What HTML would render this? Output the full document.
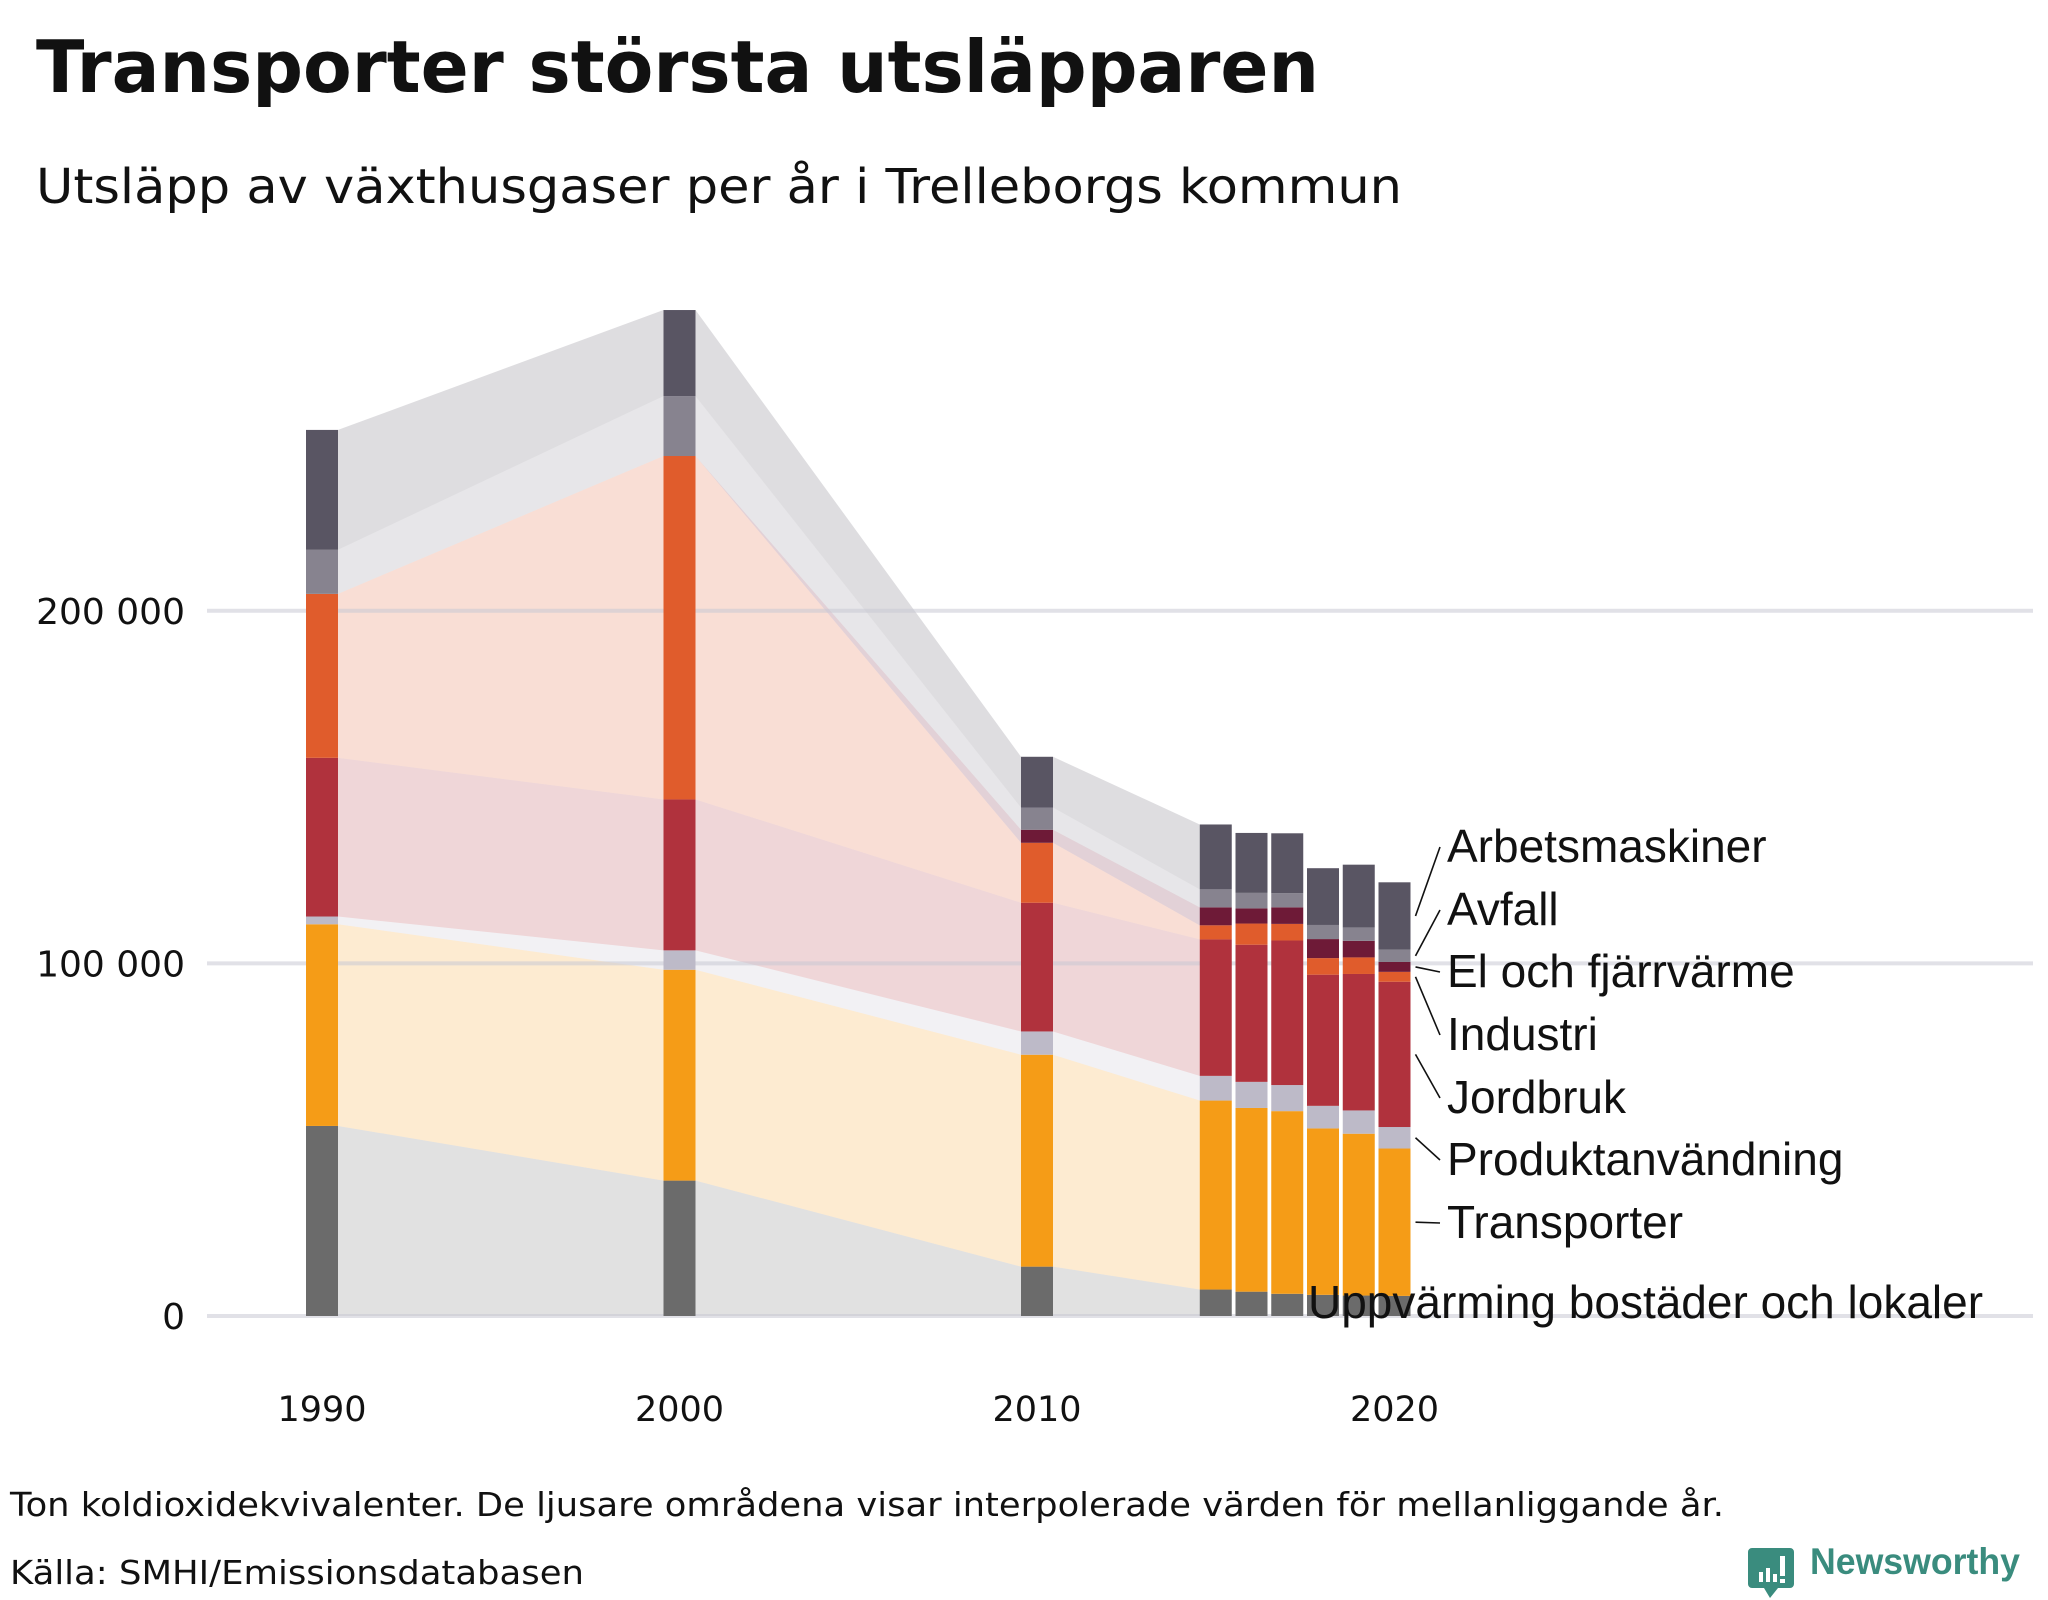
<!DOCTYPE html>
<html><head><meta charset="utf-8"><style>
html,body{margin:0;padding:0;background:#fff;}
svg{display:block;}
</style></head><body>
<svg id="chart" width="2048" height="1600" viewBox="0 0 2048 1600" xmlns="http://www.w3.org/2000/svg">
<text x="36" y="92" font-family="'DejaVu Sans', sans-serif" font-weight="bold" font-size="72" fill="#111" textLength="1283" lengthAdjust="spacingAndGlyphs">Transporter största utsläpparen</text>
<text x="36" y="203" font-family="'DejaVu Sans', sans-serif" font-size="48" fill="#111" textLength="1366" lengthAdjust="spacingAndGlyphs">Utsläpp av växthusgaser per år i Trelleborgs kommun</text>
<g id="areas"></g><g id="grid"></g><g id="bars"></g><g id="labels"></g>
<text x="10" y="1516" font-family="'DejaVu Sans', sans-serif" font-size="33" fill="#111" textLength="1714" lengthAdjust="spacingAndGlyphs">Ton koldioxidekvivalenter. De ljusare områdena visar interpolerade värden för mellanliggande år.</text>
<text x="10" y="1584" font-family="'DejaVu Sans', sans-serif" font-size="33" fill="#111" textLength="574" lengthAdjust="spacingAndGlyphs">Källa: SMHI/Emissionsdatabasen</text>
<g>
<path d="M1752 1548 h38 a4 4 0 0 1 4 4 v32 a4 4 0 0 1 -4 4 h-12 l-8 10 l-6 -10 h-12 a4 4 0 0 1 -4 -4 v-32 a4 4 0 0 1 4 -4z" fill="#3a8c7e"/>
<rect x="1759" y="1572" width="4" height="10" fill="#fff"/><rect x="1766" y="1568" width="4" height="14" fill="#fff"/><rect x="1773" y="1574" width="4" height="8" fill="#fff"/><rect x="1780" y="1556" width="5" height="20" fill="#fff"/><rect x="1780" y="1579" width="5" height="4" fill="#fff"/>
<text x="1810" y="1574" font-family="'Liberation Sans', sans-serif" font-weight="bold" font-size="37" fill="#3a8c7e" textLength="210" lengthAdjust="spacingAndGlyphs">Newsworthy</text>
</g>
</svg>
<script>
const years = [1990, 2000, 2010, 2015, 2016, 2017, 2018, 2019, 2020];
const uppvarmning = [53900, 38400, 14000, 7500, 6900, 6300, 6000, 5800, 5700];
const transporter = [57200, 59800, 60100, 53600, 52100, 51800, 47200, 45900, 41800];
const produktanvandning = [2200, 5500, 6600, 7000, 7400, 7400, 6400, 6600, 6100];
const jordbruk = [45000, 42800, 36500, 38700, 38900, 41000, 37200, 38700, 41200];
const industri = [46500, 97400, 17000, 4000, 6000, 4700, 4700, 4700, 2800];
const elFjarrvarme = [0, 0, 3700, 5100, 4300, 4700, 5400, 4700, 2800];
const avfall = [12500, 17000, 6300, 5100, 4400, 4000, 4000, 3800, 3500];
const arbetsmaskiner = [34000, 24400, 14400, 18400, 17000, 17000, 16100, 17800, 19100];
const seriesNames = ["Uppvärming bostäder och lokaler","Transporter","Produktanvändning","Jordbruk","Industri","El och fjärrvärme","Avfall","Arbetsmaskiner"];
const yTicks = [0, 100000, 200000];
const yTickLabels = ["0", "100 000", "200 000"];
const xTicks = [1990, 2000, 2010, 2020];

const series = [uppvarmning, transporter, produktanvandning, jordbruk, industri, elFjarrvarme, avfall, arbetsmaskiner];
const colors = ["#6b6b6b","#f59c17","#bdbac8","#b0323d","#e05c2c","#6e1a37","#87838f","#595563"];
const slugs = ["uppvarmning","transporter","produktanvandning","jordbruk","industri","el-fjarrvarme","avfall","arbetsmaskiner"];
const NS = "http://www.w3.org/2000/svg";
const X = y => 322 + (y - 1990) * 35.75;
const Y = v => 1316 - v * 0.003526;
const BW = 32;
function mk(tag, attrs, parent){const e=document.createElementNS(NS,tag);for(const k in attrs)e.setAttribute(k,attrs[k]);parent.appendChild(e);return e;}
const gA=document.getElementById('areas'),gG=document.getElementById('grid'),gB=document.getElementById('bars'),gL=document.getElementById('labels');
const cum = years.map((_,i)=>{let s=0;return series.map(ser=>{const b=s;s+=ser[i];return [b,s];});});
for(let i=0;i<3;i++){
  const x1=X(years[i])+BW/2, x2=X(years[i+1])-BW/2;
  series.forEach((ser,k)=>{
    const a=cum[i][k], b=cum[i+1][k];
    const p=mk('polygon',{points:`${x1},${Y(a[0])} ${x1},${Y(a[1])} ${x2},${Y(b[1])} ${x2},${Y(b[0])}`,fill:colors[k],'fill-opacity':0.2},gA);
    
    
  });
}
yTicks.forEach((t,i)=>{
  const l=mk('line',{x1:207,x2:2033,y1:Y(t),y2:Y(t),stroke:'#c9c9d3','stroke-opacity':0.55,'stroke-width':4},gG);
  
  
  const tx=mk('text',{x:185,y:Y(t)+13,'text-anchor':'end','font-family':"'DejaVu Sans', sans-serif",'font-size':36,fill:'#111'},gG);
  tx.textContent=yTickLabels[i];
  
  
});
xTicks.forEach(t=>{
  const tx=mk('text',{x:X(t),y:1421,'text-anchor':'middle','font-family':"'DejaVu Sans', sans-serif",'font-size':35,fill:'#111'},gG);
  tx.textContent=String(t);
  
  
});
years.forEach((yr,i)=>{
  series.forEach((ser,k)=>{
    const [a,b]=cum[i][k]; if(b-a<=0)return;
    const r=mk('rect',{x:X(yr)-BW/2,y:Y(b),width:BW,height:Y(a)-Y(b),fill:colors[k]},gB);
    
    
  });
});
const labelBase=[1318,1238,1175,1113,1050,987,925,862];
const last=years.length-1, bx=X(years[last])+BW/2;
series.forEach((ser,k)=>{
  const lx = k===0 ? 1308 : 1447;
  const t=mk('text',{x:lx,y:labelBase[k],'font-family':"'Liberation Sans', sans-serif",'font-size':46,fill:'#111'},gL);
  t.textContent=seriesNames[k];
  
  
  if(k>0){
    const [a,b]=cum[last][k];
    const l=mk('line',{x1:bx+5,y1:(Y(a)+Y(b))/2,x2:1440,y2:labelBase[k]-15,stroke:'#111','stroke-width':1.6},gL);
    
    
  }
});
</script>
</body></html>
